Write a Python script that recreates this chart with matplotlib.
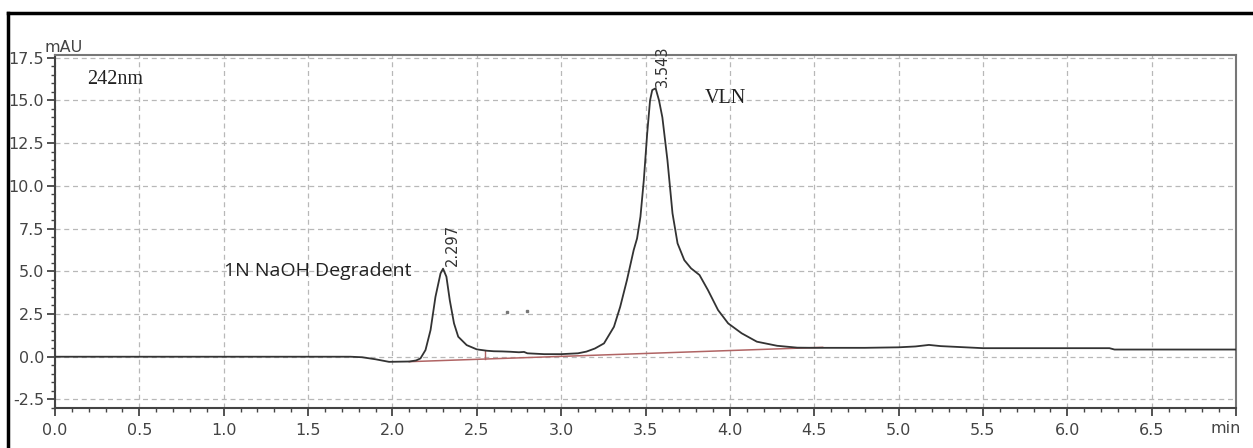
import matplotlib.pyplot as plt
from matplotlib.lines import Line2D

# chromatogram trace (retention time in min, signal in mAU)
time = [0.0, 1.75, 1.82, 1.90, 1.98, 2.10, 2.14, 2.166, 2.196, 2.226, 2.255, 2.285,
        2.30, 2.32, 2.34, 2.365, 2.39, 2.44, 2.50, 2.56, 2.60, 2.65, 2.70, 2.75,
        2.78, 2.80, 2.90, 3.00, 3.10, 3.15, 3.20, 3.254, 3.313, 3.35, 3.39, 3.43,
        3.45, 3.47, 3.49, 3.51, 3.527, 3.54, 3.56, 3.58, 3.60, 3.63, 3.66, 3.69,
        3.73, 3.77, 3.82, 3.87, 3.93, 3.99, 4.07, 4.16, 4.28, 4.40, 4.50, 4.80,
        5.00, 5.10, 5.18, 5.25, 5.50, 6.25, 6.28, 7.00]
signal = [0.0, 0.0, -0.03, -0.15, -0.30, -0.28, -0.22, -0.10, 0.39, 1.56, 3.50, 4.87,
          5.15, 4.68, 3.30, 1.95, 1.17, 0.68, 0.43, 0.35, 0.32, 0.31, 0.29, 0.26,
          0.28, 0.20, 0.15, 0.15, 0.20, 0.30, 0.48, 0.78, 1.75, 2.92, 4.48, 6.24,
          6.92, 8.19, 10.33, 13.06, 15.0, 15.6, 15.7, 15.0, 14.0, 11.5, 8.39, 6.63,
          5.65, 5.17, 4.78, 3.90, 2.73, 1.95, 1.37, 0.88, 0.64, 0.53, 0.52, 0.52,
          0.55, 0.60, 0.69, 0.62, 0.50, 0.50, 0.42, 0.42]

# integration baseline and drop line
base_t = [2.10, 4.55]
base_y = [-0.29, 0.55]
drop_t = 2.55
drop_y = [0.35, -0.14]

# peak labels
peak_t = [2.297, 3.543]
peak_y = [5.2, 15.7]
peak_txt = ["2.297", "3.543"]

x_ticks = [0.0, 0.5, 1.0, 1.5, 2.0, 2.5, 3.0, 3.5, 4.0, 4.5, 5.0, 5.5, 6.0, 6.5, 7.0]
x_labels = ["0.0", "0.5", "1.0", "1.5", "2.0", "2.5", "3.0", "3.5", "4.0", "4.5",
            "5.0", "5.5", "6.0", "6.5", ""]
y_ticks = [-2.5, 0.0, 2.5, 5.0, 7.5, 10.0, 12.5, 15.0, 17.5]

W, H = 1253, 448
fig = plt.figure(figsize=(W / 100, H / 100), dpi=100)
ax = fig.add_axes([55 / W, 1 - 408 / H, (1236 - 55) / W, (408 - 55) / H])

ax.plot(time, signal, color="#333333", lw=1.3, zorder=3)
ax.plot(base_t, base_y, color="#b06464", lw=1.1, zorder=2)
ax.plot([drop_t, drop_t], drop_y, color="#b06464", lw=1.0, zorder=2)
ax.plot([2.68, 2.80], [2.6, 2.65], ls="none", marker="s", ms=1.5, color="#777777")

ax.set_xlim(0, 7.0)
ax.set_ylim(-3.0, 17.65)
ax.set_xticks(x_ticks)
ax.set_xticklabels(x_labels)
ax.set_xticks([i / 10 for i in range(71)], minor=True)
ax.set_yticks(y_ticks)
ax.set_yticklabels(["%.1f" % v for v in y_ticks])
ax.set_yticks([i / 2 for i in range(-6, 36)], minor=True)

ax.grid(True, which="major", ls=(0, (4, 3)), color="#b8b8b8", lw=0.9)
ax.tick_params(which="major", length=6, width=1.3, color="#444444",
               labelsize=11.5, labelcolor="#444444", pad=2)
ax.tick_params(which="minor", length=3, width=1.0, color="#444444")
ax.tick_params(axis="x", pad=5)

for s in ["left", "bottom"]:
    ax.spines[s].set_color("#444444")
    ax.spines[s].set_linewidth(1.5)
for s in ["top", "right"]:
    ax.spines[s].set_color("#777777")
    ax.spines[s].set_linewidth(1.5)

# annotations
for t, y, s in zip(peak_t, peak_y, peak_txt):
    ax.text(t + 0.015, y + 0.1, s, rotation=90, ha="left", va="bottom",
            fontsize=10.5, color="#333333", family="Liberation Sans Narrow")
ax.text(0.19, 16.2, "242nm", fontsize=14.5, family="Liberation Serif",
        color="#222222", va="center")
ax.text(3.85, 15.1, "VLN", fontsize=14.5, family="Liberation Serif",
        color="#222222", va="center")
ax.text(1.0, 5.0, "1N NaOH Degradent", fontsize=14, family="Open Sans",
        color="#222222", va="center")
ax.text(1241 / W, 1 - 428 / H, "min", transform=fig.transFigure, ha="right",
        va="center", fontsize=11.5, color="#444444")
fig.text(45 / W, 1 - 47 / H, "mAU", ha="left", va="center", fontsize=11.5,
         color="#444444")

# outer frame (top and left edges)
fig.add_artist(Line2D([8 / W, 8 / W], [0, 1 - 13 / H], transform=fig.transFigure,
                      color="black", lw=2.5))
fig.add_artist(Line2D([8 / W, 1], [1 - 13 / H, 1 - 13 / H], transform=fig.transFigure,
                      color="black", lw=2.5))

fig.savefig("out.png", dpi=100)
